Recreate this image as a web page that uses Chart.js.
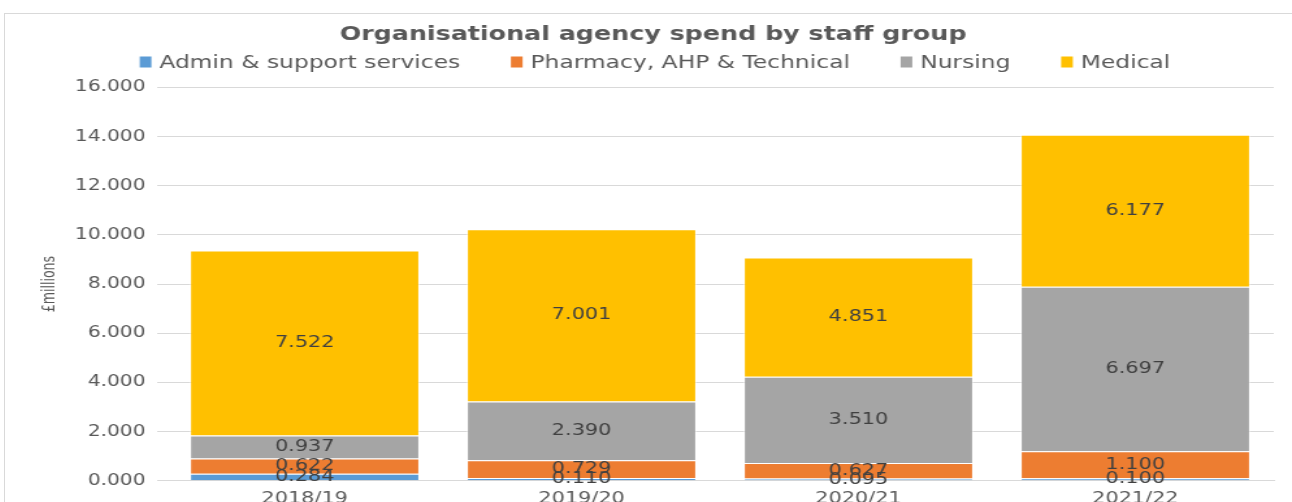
<!DOCTYPE html>
<html>
<head>
<meta charset="utf-8">
<script src="https://cdn.jsdelivr.net/npm/chart.js@4"></script>
<style>
  html, body { margin: 0; padding: 0; background: #fff; overflow: hidden; }
  #frame { position: absolute; left: 4px; top: 13px; width: 1300px; height: 520px;
           border: 1px solid #d9d9d9; }
  #spendChart { position: absolute; left: 5px; top: 14px; }
</style>
</head>
<body>
<div id="frame"></div>
<!-- chart is drawn narrow and stretched sideways, like the original picture -->
<canvas id="spendChart" width="990" height="502" style="width:1287px;height:502px"></canvas>
<script>
var years = ["2018/19", "2019/20", "2020/21", "2021/22"];
var admin = [0.284, 0.110, 0.095, 0.100];
var pharmacy = [0.622, 0.729, 0.627, 1.100];
var nursing = [0.937, 2.390, 3.510, 6.697];
var medical = [7.522, 7.001, 4.851, 6.177];
var yTicks = [0, 2, 4, 6, 8, 10, 12, 14, 16];

var fontName = "'DejaVu Sans', Verdana, sans-serif";
var textGrey = '#595959';

// value in the middle of each segment
var segmentLabels = {
    id: 'segmentLabels',
    afterDatasetsDraw: function(chart) {
        var c = chart.ctx;
        c.save();
        c.font = '16px ' + fontName;
        c.fillStyle = '#404040';
        c.textAlign = 'center';
        c.textBaseline = 'middle';
        chart.data.datasets.forEach(function(ds, i) {
            chart.getDatasetMeta(i).data.forEach(function(bar, j) {
                c.fillText(ds.data[j].toFixed(3), bar.x, (bar.y + bar.base) / 2);
            });
        });
        c.restore();
    }
};

// legend row under the title, spaced like the Excel one
var legendRow = {
    id: 'legendRow',
    afterDraw: function(chart) {
        var c = chart.ctx;
        var sets = chart.data.datasets;
        var boxW = 9, boxH = 11, gapText = 6, gapItem = 39, y = 48;
        c.save();
        c.font = '18px ' + fontName;
        c.textBaseline = 'middle';
        var widths = sets.map(function(ds) { return boxW + gapText + c.measureText(ds.label).width; });
        var total = widths.reduce(function(a, b) { return a + b; }, 0) + gapItem * (sets.length - 1);
        var x = chart.width / 2 + 5 - total / 2;
        sets.forEach(function(ds, i) {
            c.fillStyle = ds.backgroundColor;
            c.fillRect(x, y - boxH / 2, boxW, boxH);
            c.fillStyle = textGrey;
            c.fillText(ds.label, x + boxW + gapText, y + 1);
            x += widths[i] + gapItem;
        });
        c.restore();
    }
};

var ctx = document.getElementById('spendChart').getContext('2d');
var chart = new Chart(ctx, {
    type: 'bar',
    data: {
        labels: years,
        datasets: [
            { label: "Admin & support services", data: admin, backgroundColor: '#5B9BD5' },
            { label: "Pharmacy, AHP & Technical", data: pharmacy, backgroundColor: '#ED7D31' },
            { label: "Nursing", data: nursing, backgroundColor: '#A5A5A5' },
            { label: "Medical", data: medical, backgroundColor: '#FFC000' }
        ]
    },
    options: {
        responsive: false,
        animation: false,
        datasets: {
            bar: { categoryPercentage: 0.83, barPercentage: 1.0, borderWidth: 1, borderColor: 'rgba(255,255,255,0.55)' }
        },
        layout: { padding: { left: 21, right: 14, top: 0, bottom: 0 } },
        plugins: {
            title: {
                display: true,
                text: 'Organisational agency spend by staff group',
                color: textGrey,
                font: { family: fontName, size: 19.5, weight: 'bold' },
                padding: { top: 9, bottom: 41 }
            },
            legend: { display: false },
            tooltip: { enabled: false }
        },
        scales: {
            x: {
                stacked: true,
                grid: { display: false, drawTicks: false },
                border: { color: '#d9d9d9' },
                ticks: { color: textGrey, padding: 8, font: { family: fontName, size: 16 } }
            },
            y: {
                stacked: true,
                min: 0,
                max: 16,
                afterBuildTicks: function(axis) {
                    axis.ticks = yTicks.map(function(v) { return { value: v }; });
                },
                grid: { color: '#d9d9d9', tickLength: 7, tickColor: '#d9d9d9' },
                border: { display: false },
                ticks: {
                    color: textGrey,
                    padding: 9,
                    font: { family: fontName, size: 15.5 },
                    callback: function(v) { return v.toFixed(3); }
                },
                title: {
                    display: true,
                    text: '£millions',
                    color: textGrey,
                    font: { family: "'DejaVu Sans Condensed', 'DejaVu Sans', sans-serif", size: 14 },
                    padding: { top: 5, bottom: 2 }
                }
            }
        }
    },
    plugins: [segmentLabels, legendRow]
});
</script>
</body>
</html>
